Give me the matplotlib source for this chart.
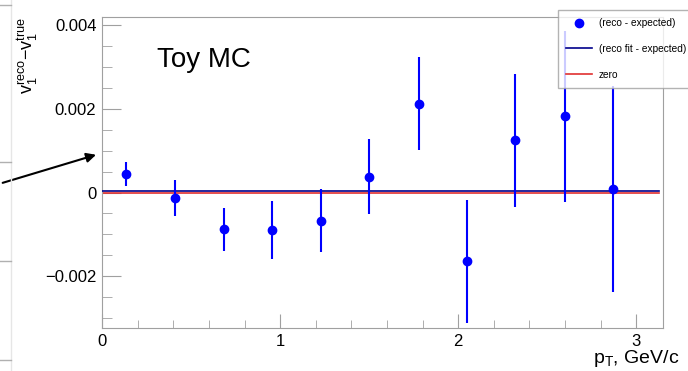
import numpy as np
import matplotlib.pyplot as plt
from matplotlib.lines import Line2D
from matplotlib.ticker import MultipleLocator

plt.rcParams['font.family'] = ['Liberation Sans', 'DejaVu Sans']

pt = [0.135, 0.41, 0.685, 0.955, 1.23, 1.50, 1.78, 2.05, 2.32, 2.60, 2.87]
dv1 = [0.00045, -0.000135, -0.00088, -0.00089, -0.00067, 0.00038,
       0.00213, -0.00164, 0.00125, 0.00182, 0.00009]
dv1_err = [0.00029, 0.00043, 0.00051, 0.00069, 0.00076, 0.00089,
           0.00111, 0.00147, 0.00159, 0.00205, 0.00246]
fit_x = [0.0, 3.13]
fit_y = [0.00003, 0.00003]
zero_y = [0.0, 0.0]

fig = plt.figure(figsize=(6.88, 3.71), dpi=100)
ax = fig.add_axes([0.1483, 0.1159, 0.8154, 0.8383])

zero_line, = ax.plot(fit_x, zero_y, color='#e03030', lw=1.2, zorder=2)
fit_line, = ax.plot(fit_x, fit_y, color='#00008b', lw=1.2, zorder=3)
ax.errorbar(pt, dv1, yerr=dv1_err, fmt='o', color='#0000ff', ms=6,
            elinewidth=1.5, capsize=0, zorder=4)

ax.set_xlim(0, 3.15)
ax.set_ylim(-0.00324, 0.0042)
ax.xaxis.set_major_locator(MultipleLocator(1))
ax.xaxis.set_minor_locator(MultipleLocator(0.2))
ax.yaxis.set_major_locator(MultipleLocator(0.002))
ax.yaxis.set_minor_locator(MultipleLocator(0.0005))
ax.set_yticks([-0.002, 0, 0.002, 0.004])
ax.set_yticklabels(['\u22120.002', '0', '0.002', '0.004'])
ax.set_xticks([0, 1, 2, 3])
ax.set_xticklabels(['0', '1', '2', '3'])

for s in ax.spines.values():
    s.set_color('#a0a0a0')
ax.tick_params(which='both', direction='in', colors='#a0a0a0', labelcolor='black',
               labelsize=12, top=False, right=False)
ax.tick_params(which='major', length=14, pad=4)
ax.tick_params(axis='y', which='minor', length=7)
ax.tick_params(axis='x', which='major', length=10)
ax.tick_params(axis='x', which='minor', length=6)

ax.set_ylabel(r'$\mathregular{v_1^{reco}}$$\mathregular{-v_1^{true}}$', fontsize=13,
              loc='top')
ax.yaxis.set_label_coords(-0.11, 1.0)
ax.set_xlabel(r'p$_\mathregular{T}$, GeV/c', fontsize=14, loc='right')
ax.xaxis.set_label_coords(1.03, -0.065)

ax.text(0.098, 0.84, 'Toy MC', transform=ax.transAxes, fontsize=20)

dot = Line2D([], [], marker='o', ls='none', color='#0000ff', ms=6)
leg = fig.legend([dot, fit_line, zero_line],
                 ['(reco - expected)', '(reco fit - expected)', 'zero'],
                 loc='upper left', bbox_to_anchor=(0.811, 0.973), fontsize=7.3,
                 frameon=True, fancybox=False, edgecolor='#a0a0a0',
                 borderpad=0.8, labelspacing=1.55, handlelength=2.6,
                 handletextpad=0.6, borderaxespad=0)
leg.get_frame().set_linewidth(1.0)

# neighbouring panel remnants at the left edge
fig.add_artist(plt.Line2D([0.0165, 0.0165], [0, 1], color='#e6e6e6', lw=1))
for yy in [0.987, 0.563, 0.296, 0.030]:
    fig.add_artist(plt.Line2D([0, 0.0165], [yy, yy], color='#b0b0b0', lw=1))

ax.annotate('', xy=(0.1435, 0.585), xycoords='figure fraction',
            xytext=(0.0, 0.505), textcoords='figure fraction',
            arrowprops=dict(arrowstyle='-|>', color='black', lw=1.5,
                            mutation_scale=14), annotation_clip=False)

fig.savefig('out.png', dpi=100)
